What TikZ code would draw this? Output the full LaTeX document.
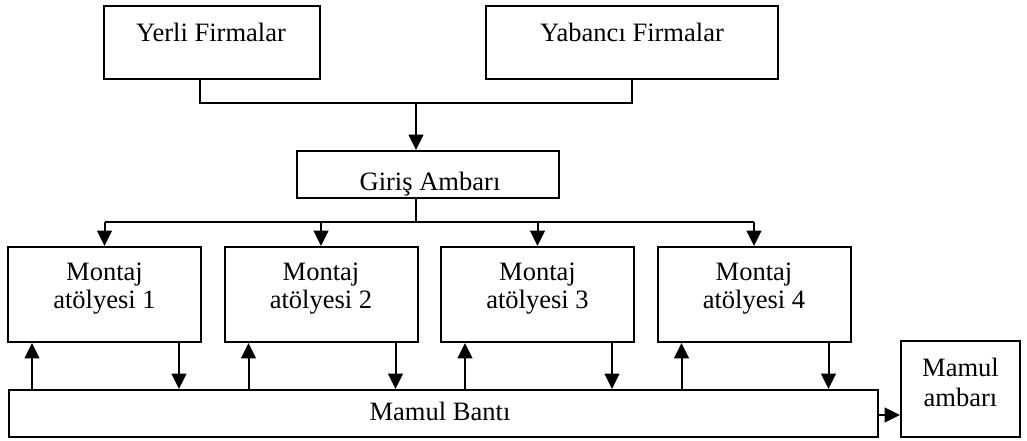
\documentclass[tikz,border=0pt]{standalone}
\usepackage{fontspec}
\setmainfont{Liberation Serif}
\usetikzlibrary{arrows.meta,calc}
\begin{document}
\begin{tikzpicture}[x=0.75pt,y=-0.75pt,
  box/.style 2 args={draw,line width=1.5pt,inner sep=0pt,
    minimum width=#1*0.75pt,minimum height=#2*0.75pt},
  txt/.style={font=\fontsize{19.9}{21}\selectfont,inner sep=0pt,align=center},
  link/.style={line width=1.5pt},
  arr/.style={line width=1.5pt,-{Triangle[width=11pt,length=11.5pt]}}]
\useasboundingbox (0,0) rectangle (1027,440);

% suppliers
\node[box={216}{73}] (yerli) at (212,42.5) {};
\node[txt,anchor=base] (tyerli) at (211,41) {Yerli Firmalar};
\node[box={292}{73}] (yabanci) at (632,42.5) {};
\node[txt,anchor=base] (tyabanci) at (632,41) {Yabancı Firmalar};

% incoming store
\node[box={262}{47}] (giris) at (428,174.5) {};
\node[txt,anchor=base] (tgiris) at (430,190) {Giriş Ambarı};

% assembly shops
\foreach \i/\cx in {1/104.5,2/321,3/537.5,4/754}{
  \node[box={193}{95}] (m\i) at (\cx,294.5) {};
  \node[txt] (tm\i) at (\cx,289) {Montaj\\atölyesi \i};
}

% product belt and product store
\node[box={869}{47}] (bant) at (443.5,413.5) {};
\node[txt,anchor=base] (tbant) at (440,420) {Mamul Bantı};
\node[box={119}{96}] (mamul) at (960.5,389) {};
\node[txt,font=\fontsize{19.9}{23}\selectfont] (tmamul) at (960.5,382.5) {Mamul\\ambarı};

% suppliers -> incoming store
\coordinate (join) at (416,103);
\coordinate (yout) at (200,79);
\draw[link] (yout) |- (join) -| (yabanci.south);
\draw[arr] (join) -- (join |- giris.north);

% incoming store -> shops
\coordinate (split) at (416,222);
\draw[link] (split |- giris.south) -- (split);
\draw[link] (m1.north |- split) -- (m4.north |- split);
\foreach \i in {1,...,4}
  \draw[arr] (m\i.north |- split) -- (m\i.north);

% shops <-> belt
\foreach \i in {1,...,4}{
  \coordinate (up\i) at ($(m\i.south west)+(25,0)$);
  \coordinate (dn\i) at ($(m\i.south east)+(-23,0)$);
  \draw[arr] (up\i |- bant.north) -- (up\i);
  \draw[arr] (dn\i) -- (dn\i |- bant.north);
}

% belt -> product store
\coordinate (out) at (878,415);
\draw[arr] (out) -- (mamul.west |- out);
\end{tikzpicture}
\end{document}
